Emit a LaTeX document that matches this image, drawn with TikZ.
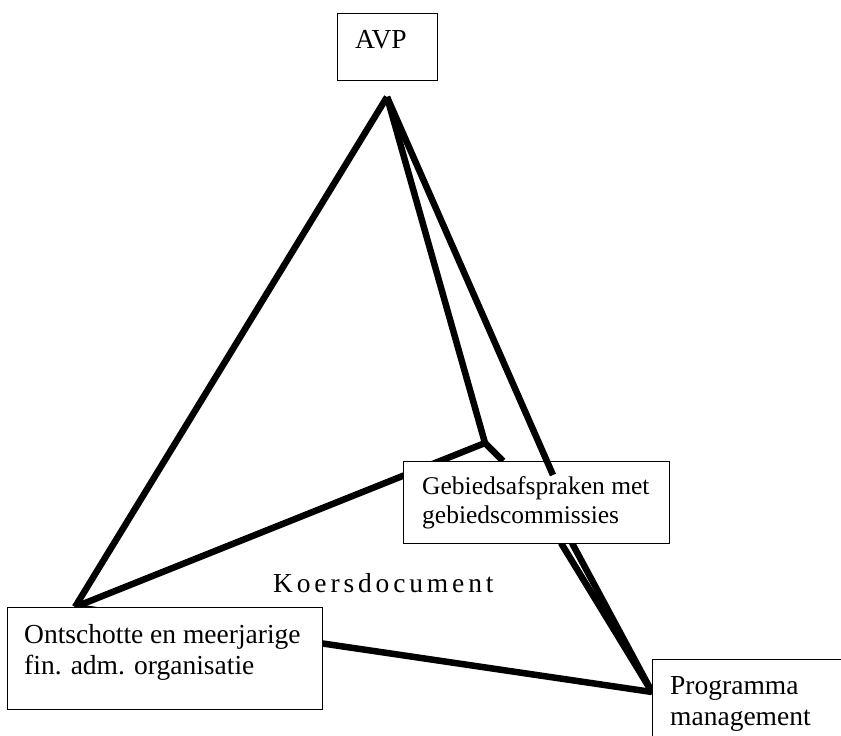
\documentclass[tikz,border=0pt]{standalone}
\usepackage{fontspec}
\setmainfont{Liberation Serif}
\begin{document}
\begin{tikzpicture}[x=1pt,y=-1pt,
  conn/.style={line width=6.5pt, line cap=butt},
  boxn/.style={draw, line width=1.3pt, fill=white, rectangle, inner sep=0pt, anchor=north west},
  txt/.style={anchor=base west, inner sep=0pt, font=\fontsize{27.5}{31}\selectfont},
  stxt/.style={anchor=base west, inner sep=0pt, font=\fontsize{25.5}{29}\selectfont},
  ktxt/.style={anchor=base west, inner sep=0pt, font=\fontsize{27.5}{31}\selectfont\addfontfeature{LetterSpace=14}}
]
\useasboundingbox (0,0) rectangle (841,736);
% connector points
\coordinate (A) at (387,97);
\coordinate (L) at (75,607);
\coordinate (J) at (485,443);
\coordinate (P) at (652,692);
\coordinate (S) at (503,461);
\coordinate (R) at (553,475);
\coordinate (B1) at (561,543);
\coordinate (B2) at (572,543);
% lines under boxes
\draw[conn] (A) -- (L);
\draw[conn] (A) -- (J);
\draw[conn] (L) -- (J);
\draw[conn] (J) -- (S);
\draw[conn] (L) -- (P);
\draw[conn] (B1) -- (P);
\draw[conn] (B2) -- (P);
% boxes
\node[boxn, minimum width=100pt, minimum height=67pt] (avp) at (337,13) {};
\node[boxn, minimum width=315pt, minimum height=102pt] (ont) at (7,607) {};
\node[boxn, minimum width=266pt, minimum height=82pt] (geb) at (403,461) {};
\node[boxn, minimum width=220pt, minimum height=110pt] (prog) at (652,659) {};
% line over the box
\draw[conn] (A) -- (R);
% texts
\node[txt] (avpT) at (355,48) {AVP};
\node[txt] (ont1) at (24,643) {Ontschotte en meerjarige};
\node[txt] (ont2) at (24,674) {fin. adm. organisatie};
\node[stxt] (geb1) at (422,494) {Gebiedsafspraken met};
\node[stxt] (geb2) at (422,523) {gebiedscommissies};
\node[txt] (prog1) at (670,694) {Programma};
\node[txt] (prog2) at (670,725) {management};
\node[ktxt] (koers) at (273,592) {Koersdocument};
\end{tikzpicture}
\end{document}
